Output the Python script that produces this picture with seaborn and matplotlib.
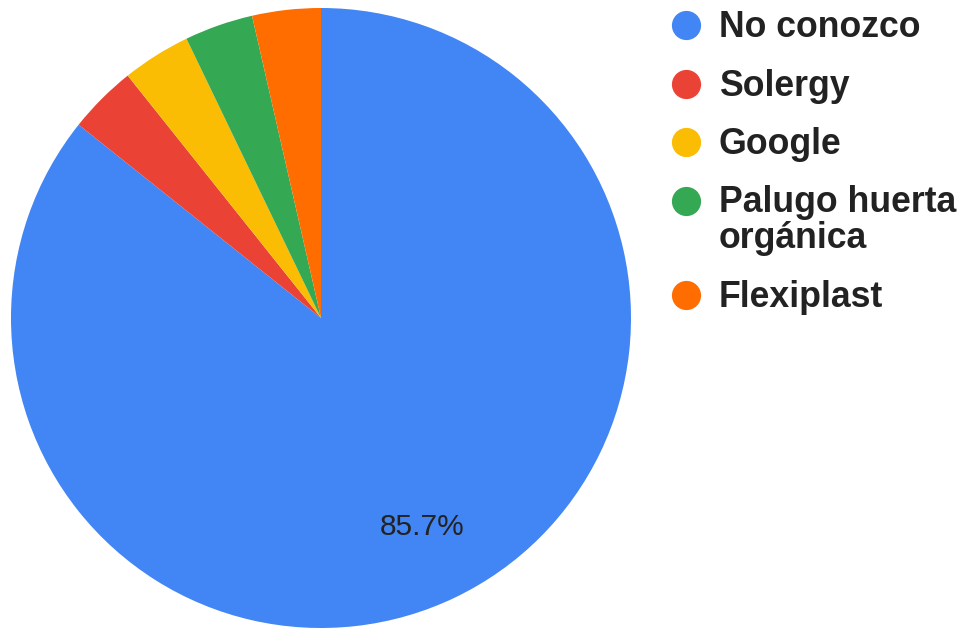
import matplotlib
matplotlib.use("Agg")
import matplotlib.pyplot as plt
import seaborn as sns
from matplotlib.lines import Line2D

# data (28 answers: 24 / 1 / 1 / 1 / 1)
labels = ["No conozco", "Solergy", "Google", "Palugo huerta\norgánica", "Flexiplast"]
counts = [24, 1, 1, 1, 1]
colors = ["#4285F4", "#EA4335", "#FBBC04", "#34A853", "#FF6D01"]

sns.set_style("white")
plt.rcParams["font.family"] = ["Liberation Sans", "DejaVu Sans"]

fig = plt.figure(figsize=(9.66, 6.29), dpi=100)
W, H = 966, 629

# pie axes: centre (321, 318) px, radius 310 px
cx, cy, r = 321, 318, 310
ax = fig.add_axes([(cx - r) / W, (H - cy - r) / H, 2 * r / W, 2 * r / H])


def pct_label(p):
    return f"{p:.1f}%" if p > 5 else ""


wedges, texts, autotexts = ax.pie(counts, colors=colors, startangle=90, counterclock=False,
                                  autopct=pct_label, pctdistance=0.75, radius=1,
                                  wedgeprops=dict(linewidth=0))
for t in autotexts:
    t.set_fontsize(21.5)
    t.set_color("#222222")
ax.set_xlim(-1, 1)
ax.set_ylim(-1, 1)
ax.set_aspect("equal")
ax.axis("off")

# legend drawn by hand so the marker sits on the first line of a wrapped label
y = 25
for lab, col in zip(labels, colors):
    fig.add_artist(Line2D([686 / W], [1 - y / H], marker="o", markersize=20,
                          color=col, linestyle="", transform=fig.transFigure))
    for j, line in enumerate(lab.split("\n")):
        fig.text(719 / W, 1 - (y + 12 + 36 * j) / H, line, fontsize=25.7, fontweight="bold",
                 color="#222222", va="baseline", ha="left")
    y += 58.5 + 36 * lab.count("\n")

fig.savefig("out.png", dpi=100, facecolor="white")
